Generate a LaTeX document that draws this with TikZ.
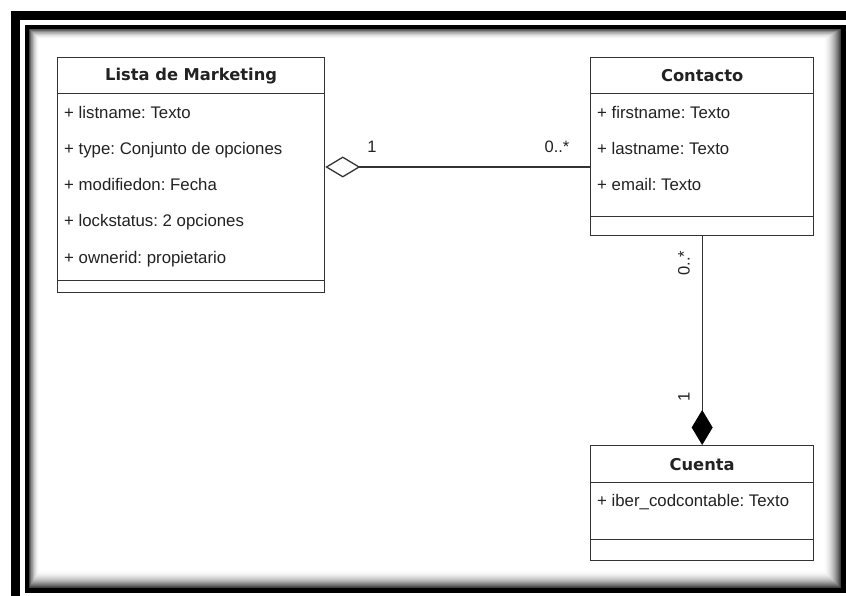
\documentclass[tikz,border=0pt]{standalone}
\usepackage{fontspec}
\setmainfont{Liberation Sans}
\newfontfamily\titlefont{DejaVu Sans}
\usetikzlibrary{arrows.meta}
\definecolor{umlline}{HTML}{333333}
\definecolor{umltext}{HTML}{222222}
\frenchspacing
\begin{document}
\begin{tikzpicture}[x=1pt,y=-1pt,
 classhead/.style={draw=umlline, line width=1.3pt, fill=white, inner sep=0pt, anchor=north west,
   font=\titlefont\bfseries\fontsize{16.3}{19}\selectfont, text=umltext},
 classpart/.style={draw=umlline, line width=1.3pt, fill=white, inner sep=0pt, anchor=north west},
 attr/.style={anchor=base west, inner sep=0pt, font=\frenchspacing\fontsize{16.8}{19}\selectfont, text=umltext},
 mult/.style={inner sep=0pt, font=\fontsize{16.5}{19}\selectfont, text=umltext},
 assoc/.style={draw=umlline, line width=1.3pt},
]
\useasboundingbox (0,0) rectangle (846,596);
\fill[white] (0,0) rectangle (846,596);
% window frame
\fill[black] (11,11) rectangle (846,596);
\fill[white] (20,20) rectangle (846,596);
\fill[black] (25,25) rectangle (846,593);
\fill[white] (29,29) rectangle (841,588);
\foreach \i in {0,...,17}{
  \pgfmathsetmacro\sh{75*(1-\i/18)^2}
  \draw[black!\sh, line width=1.2pt] (29.5+0.6*\i, 29.5+0.6*\i) rectangle (840.5-\i, 587.5-\i);
}

% Lista de Marketing
\node[classhead, minimum width=267pt, minimum height=36pt] (lista) at (57,57) {Lista de Marketing};
\node[classpart, minimum width=267pt, minimum height=187pt] (listaattr) at (57,93) {};
\node[classpart, minimum width=267pt, minimum height=12pt] (listaops) at (57,280) {};
\node[attr] (la1) at (64,119) {+ listname: Texto};
\node[attr] (la2) at (64,155) {+ type: Conjunto de opciones};
\node[attr] (la3) at (64,191) {+ modifiedon: Fecha};
\node[attr] (la4) at (64,227) {+ lockstatus: 2 opciones};
\node[attr] (la5) at (64,263) {+ ownerid: propietario};

% Contacto
\node[classhead, minimum width=223pt, minimum height=36pt] (contacto) at (590,57) {Contacto};
\node[classpart, minimum width=223pt, minimum height=123pt] (contattr) at (590,93) {};
\node[classpart, minimum width=223pt, minimum height=19pt] (contops) at (590,216) {};
\node[attr] (ca1) at (597,119) {+ firstname: Texto};
\node[attr] (ca2) at (597,155) {+ lastname: Texto};
\node[attr] (ca3) at (597,191) {+ email: Texto};

% Cuenta
\node[classhead, minimum width=223pt, minimum height=37pt] (cuenta) at (590,445) {Cuenta};
\node[classpart, minimum width=223pt, minimum height=57pt] (cuentaattr) at (590,482) {};
\node[classpart, minimum width=223pt, minimum height=21pt] (cuentaops) at (590,539) {};
\node[attr] (cu1) at (597,506) {+ iber\_codcontable: Texto};

% aggregation
\coordinate (aggy) at (0,167);
\draw[assoc, {Diamond[open, fill=white, length=35pt, width=21pt]}-] (listaattr.east |- aggy) -- (contattr.west |- aggy);
% composition
\draw[assoc, -{Diamond[fill=black, color=black, length=35pt, width=21pt]}] (contops.south) -- (cuenta.north);

% multiplicities
\node[mult] (m1) at (372,147) {1};
\node[mult] (m2) at (557,147) {0..*};
\node[mult, rotate=90] (m3) at (684,263) {0..*};
\node[mult, rotate=90] (m4) at (684,397) {1};
\end{tikzpicture}
\end{document}
